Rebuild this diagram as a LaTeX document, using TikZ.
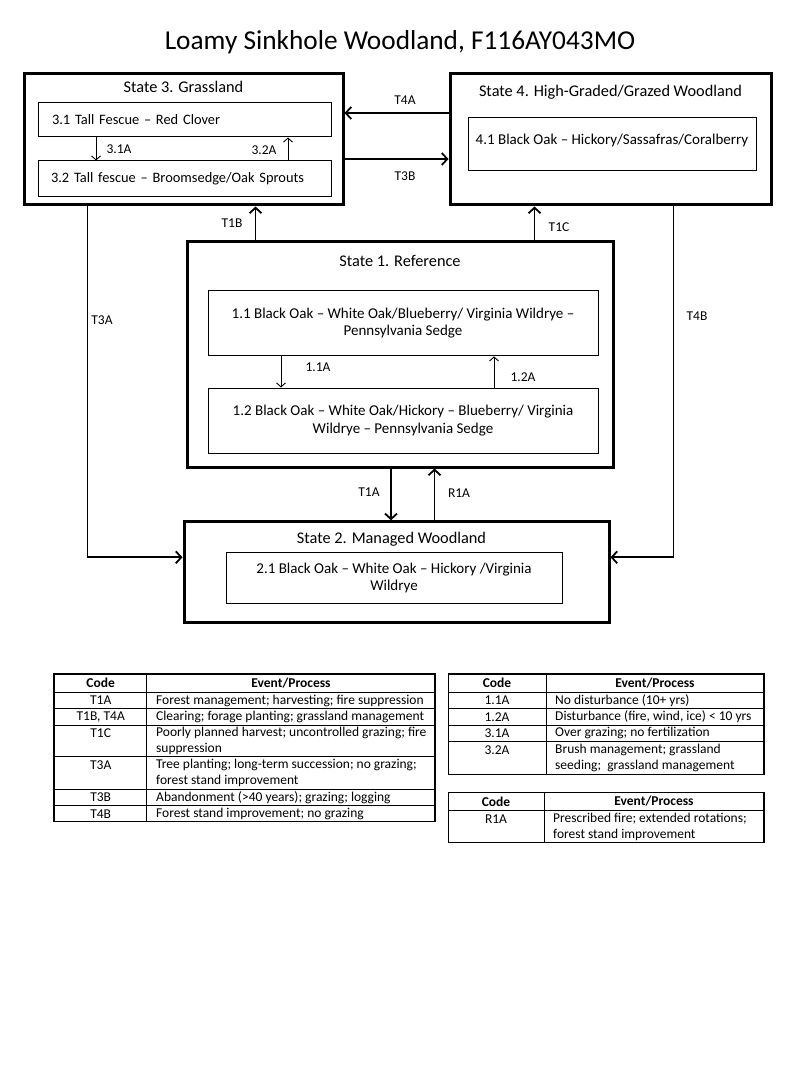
\documentclass[tikz,border=0pt]{standalone}
\usepackage{fontspec}
\setmainfont{Carlito}
\usetikzlibrary{arrows.meta,positioning,calc}
\newcommand{\headfont}{\fontsize{27.3}{32}\selectfont}
\newcommand{\statefont}{\fontsize{16.3}{19}\selectfont}
\newcommand{\subfont}{\fontsize{15}{17.3}\selectfont}
\newcommand{\lblfont}{\fontsize{13.5}{15}\selectfont}
\newcommand{\cellfont}{\fontsize{13.5}{16.5}\selectfont}
\tikzset{
  state/.style={draw, line width=3pt, inner sep=0pt},
  sub/.style={draw, line width=1pt, inner sep=0pt, font=\subfont, align=center},
  title/.style={font=\statefont, inner sep=0pt},
  trans/.style={line width=1.8pt, -{Straight Barb[length=5.5pt,width=12pt]}},
  within/.style={line width=0.9pt, -{Straight Barb[length=4pt,width=9pt]}},
  lbl/.style={font=\lblfont, inner sep=0pt},
  gridout/.style={line width=1.3pt},
  gridin/.style={line width=1pt},
  cell/.style={font=\cellfont, inner sep=0pt, align=left, anchor=west},
  code/.style={font=\cellfont, inner sep=0pt},
  head/.style={font=\cellfont\bfseries, inner sep=0pt},
}

\begin{document}
\begin{tikzpicture}[x=1pt,y=-1pt]
\useasboundingbox (0,0) rectangle (800,1067);
\node[font=\headfont] (head) at (400,42) {Loamy Sinkhole Woodland, F116AY043MO};

% define states
\node[state, minimum width=319pt, minimum height=131pt] (state3) at (183.5,139.5) {};
\node[state, minimum width=321pt, minimum height=131pt] (state4) at (610.5,139.5) {};
\node[state, minimum width=426pt, minimum height=225pt] (state1) at (400,354.5) {};
\node[state, minimum width=425pt, minimum height=101pt] (state2) at (396.5,572.3) {};
% state titles
\node[title, below=8pt of state3.north] (state3_title) {State 3. Grassland};
\node[title, below=12pt of state4.north] (state4_title) {State 4. High-Graded/Grazed Woodland};
\node[title, below=15pt of state1.north] (state1_title) {State 1. Reference};
\node[title, below=12pt of state2.north, xshift=-5pt] (state2_title) {State 2. Managed Woodland};

% define communities
\node[sub, font=\fontsize{14.4}{17}\selectfont, minimum height=34pt, text width=265pt, align=left, inner xsep=14pt] (s31) at (184.5,120) {3.1 Tall Fescue -- Red Clover};
\node[sub, font=\fontsize{14.4}{17}\selectfont, minimum height=36pt, text width=267pt, align=left, inner xsep=13pt] (s32) at (184.5,179) {3.2 Tall fescue -- Broomsedge/Oak Sprouts};
\node[sub, minimum width=288pt, minimum height=53pt, text depth=11pt] (s41) at (612,144.5) {4.1 Black Oak -- Hickory/Sassafras/Coralberry};
\node[sub, minimum width=390pt, minimum height=65pt] (s11) at (403,323.4) {1.1 Black Oak -- White Oak/Blueberry/ Virginia Wildrye --\\Pennsylvania Sedge};
\node[sub, minimum width=390pt, minimum height=65pt] (s12) at (403,420.5) {1.2 Black Oak -- White Oak/Hickory -- Blueberry/ Virginia\\Wildrye -- Pennsylvania Sedge};
\node[sub, minimum width=336pt, minimum height=50.6pt] (s21) at (394,578) {2.1 Black Oak -- White Oak -- Hickory /Virginia\\Wildrye};

% free ends of the transitions
\coordinate (t1b_foot) at ([xshift=70pt]state1.north west);
\coordinate (t1c_foot) at ([xshift=349pt]state1.north west);
\coordinate (t3a_foot) at ([xshift=65pt]state3.south west);
\coordinate (t4b_foot) at ([xshift=225pt]state4.south west);
\coordinate (t1a_foot) at ([xshift=-9pt]state1.south);
\coordinate (r1a_foot) at ([xshift=38pt]state2.north);

% draw transitions
\draw[trans] ([yshift=26.5pt]state4.west) -- ([yshift=26.5pt]state3.east);
\draw[trans] ([yshift=-19.5pt]state3.east) -- ([yshift=-19.5pt]state4.west);
\draw[trans] (t1b_foot) -- (t1b_foot |- state3.south);
\draw[trans] (t1c_foot) -- (t1c_foot |- state4.south);
\draw[trans] (t3a_foot) |- ([yshift=15pt]state2.west);
\draw[trans] (t4b_foot) |- ([yshift=15pt]state2.east);
\draw[trans] (t1a_foot) -- (t1a_foot |- state2.north);
\draw[trans] (r1a_foot) -- (r1a_foot |- state1.south);
% draw pathways inside states
\draw[within] ([xshift=-88.5pt]s31.south) -- ([xshift=-88.5pt]s32.north);
\draw[within] ([xshift=103.5pt]s32.north) -- ([xshift=103.5pt]s31.south);
\draw[within] ([xshift=-122pt]s11.south) -- ([xshift=-122pt]s12.north);
\draw[within] ([xshift=91pt]s12.north) -- ([xshift=91pt]s11.south);

% add labels
\node[lbl] (lbl_t4a) at (405,100) {T4A};
\node[lbl] (lbl_t3b) at (405,176) {T3B};
\node[lbl] (lbl_t1b) at (232,223) {T1B};
\node[lbl] (lbl_t1c) at (559,227) {T1C};
\node[lbl] (lbl_t3a) at (102,320) {T3A};
\node[lbl] (lbl_t4b) at (697,316) {T4B};
\node[lbl] (lbl_t1a) at (369,492) {T1A};
\node[lbl] (lbl_r1a) at (459,493) {R1A};
\node[lbl] (lbl_31a) at (119,149) {3.1A};
\node[lbl] (lbl_32a) at (264,150) {3.2A};
\node[lbl] (lbl_11a) at (318,367) {1.1A};
\node[lbl] (lbl_12a) at (523,377) {1.2A};

% legend tables
\draw[gridout] (54,674) rectangle (435,821.7);
\foreach \y in {692.3,708.7,725,756.7,789.3,805.7} \draw[gridin] (54,\y) -- (435,\y);
\draw[gridin] (146.7,674) -- (146.7,821.7);
\draw[gridout] (448.3,674) rectangle (764,774.3);
\foreach \y in {692.3,708.7,725,741.7} \draw[gridin] (448.3,\y) -- (764,\y);
\draw[gridin] (546,674) -- (546,774.3);
\draw[gridout] (448.3,792.3) rectangle (764,842.7);
\draw[gridin] (448.3,810.7) -- (764,810.7);
\draw[gridin] (544,792.3) -- (544,842.7);

% left table
\node[head] (lt_code) at (100.7,683.2) {Code};
\node[head] (lt_event) at (291,683.2) {Event/Process};
\node[code] (lt_t1a) at (100.7,700.5) {T1A};
\node[code] (lt_t1b) at (100.7,716.9) {T1B, T4A};
\node[code] (lt_t1c) at (100.7,733.2) {T1C};
\node[code] (lt_t3a) at (100.7,765) {T3A};
\node[code] (lt_t3b) at (100.7,797.5) {T3B};
\node[code] (lt_t4b) at (100.7,813.7) {T4B};
\node[cell] (lt_t1a_txt) at (156,700.5) {Forest management; harvesting; fire suppression};
\node[cell] (lt_t1b_txt) at (156,716.9) {Clearing; forage planting; grassland management};
\node[cell] (lt_t1c_txt) at (156,740.9) {Poorly planned harvest; uncontrolled grazing; fire\\suppression};
\node[cell] (lt_t3a_txt) at (156,773) {Tree planting; long-term succession; no grazing;\\forest stand improvement};
\node[cell] (lt_t3b_txt) at (156,797.5) {Abandonment (>40 years); grazing; logging};
\node[cell] (lt_t4b_txt) at (156,813.7) {Forest stand improvement; no grazing};
% right tables
\node[head] (rt_code) at (497,683.2) {Code};
\node[head] (rt_event) at (655,683.2) {Event/Process};
\node[code] (rt_11a) at (497,700.5) {1.1A};
\node[code] (rt_12a) at (497,716.9) {1.2A};
\node[code] (rt_31a) at (497,733.4) {3.1A};
\node[code] (rt_32a) at (497,750) {3.2A};
\node[cell] (rt_11a_txt) at (555,700.5) {No disturbance (10+ yrs)};
\node[cell] (rt_12a_txt) at (555,716.9) {Disturbance (fire, wind, ice) < 10 yrs};
\node[cell] (rt_31a_txt) at (555,733.4) {Over grazing; no fertilization};
\node[cell] (rt_32a_txt) at (555,758) {Brush management; grassland\\seeding;~ grassland management};
\node[head] (rt2_code) at (496,801.5) {Code};
\node[head] (rt2_event) at (654,801.5) {Event/Process};
\node[code] (rt2_r1a) at (496,818.7) {R1A};
\node[cell] (rt2_r1a_txt) at (553,826.7) {Prescribed fire; extended rotations;\\forest stand improvement};
\end{tikzpicture}
\end{document}
